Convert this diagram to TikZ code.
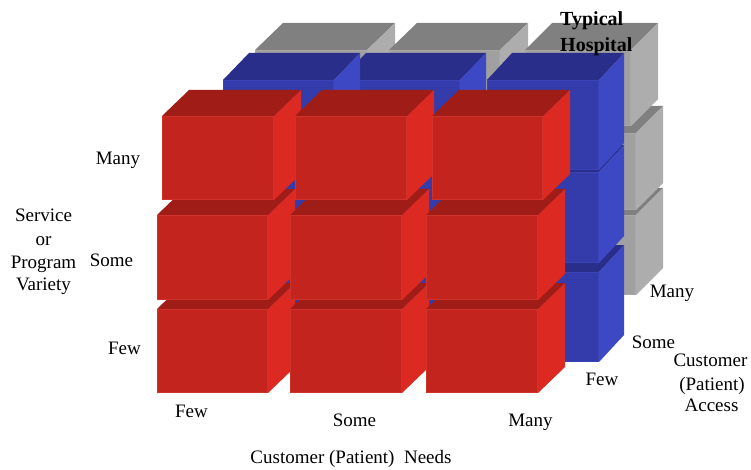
\documentclass[tikz,border=0pt]{standalone}
\usepackage{fontspec}
\setmainfont{Liberation Serif}
\definecolor{redfront}{HTML}{C3241E}
\definecolor{redtop}{HTML}{A01C16}
\definecolor{redside}{HTML}{DC2A22}
\definecolor{rededge}{HTML}{D0332C}
\definecolor{bluefront}{HTML}{333CAA}
\definecolor{bluetop}{HTML}{282E8A}
\definecolor{blueside}{HTML}{3D48C5}
\definecolor{blueedge}{HTML}{3A44B8}
\definecolor{grayfront}{HTML}{A0A0A0}
\definecolor{graytop}{HTML}{808080}
\definecolor{grayside}{HTML}{ADADAD}
\definecolor{grayedge}{HTML}{A8A8A8}
% #1 x, #2 y (front top-left), #3 width, #4 height, #5 depth dx, #6 depth dy, #7 colour prefix
\newcommand\cub[7]{%
  \fill[#7top] (#1,#2) -- ++(#5,-#6) -- ++(#3,0) -- ++(-#5,#6) -- cycle;
  \fill[#7side] (#1+#3,#2) -- ++(#5,-#6) -- ++(0,#4) -- ++(-#5,#6) -- cycle;
  \fill[#7front] (#1,#2) rectangle ++(#3,#4);
  \draw[#7edge, line width=1] (#1+0.5,#2+0.5) rectangle ++(#3-1,#4-1);
}
\begin{document}
\begin{tikzpicture}[x=1pt,y=-1pt,
  lbl/.style={font=\fontsize{19}{23}\selectfont, inner sep=0pt, anchor=base},
  ttl/.style={font=\bfseries\fontsize{20}{24}\selectfont, inner sep=0pt, anchor=base west}]
\useasboundingbox (0,0) rectangle (751,470);
\fill[white] (0,0) rectangle (751,470);
% ---------- gray (back) layer ----------
\cub{259}{215}{112}{80}{27}{27}{gray}
\cub{393}{215}{111}{80}{27}{27}{gray}
\cub{530}{215}{106}{80}{27}{27}{gray}
\cub{259}{133}{112}{77}{27}{27}{gray}
\cub{393}{133}{111}{77}{27}{27}{gray}
\cub{530}{133}{106}{77}{27}{27}{gray}
\cub{255}{50}{112}{76}{28}{27}{gray}
\cub{389}{50}{111}{76}{28}{27}{gray}
\cub{525}{50}{106}{76}{27}{27}{gray}
% ---------- blue (middle) layer ----------
\cub{487}{272}{112}{90}{25}{27}{blue}
\cub{340}{272}{120}{90}{26}{27}{blue}
\cub{223}{272}{111}{90}{26}{27}{blue}
\cub{487}{172}{112}{91}{25}{27}{blue}
\cub{340}{172}{120}{91}{26}{27}{blue}
\cub{223}{172}{111}{91}{26}{27}{blue}
\cub{487}{80}{112}{90}{25}{27}{blue}
\cub{340}{80}{120}{90}{26}{27}{blue}
\cub{223}{80}{111}{90}{26}{27}{blue}
% ---------- red (front) layer ----------
\cub{157}{309}{111}{84}{27}{26}{red}
\cub{290}{309}{112}{84}{27}{26}{red}
\cub{426}{309}{112}{84}{27}{26}{red}
\cub{157}{215}{111}{85}{27}{26}{red}
\cub{290}{215}{112}{85}{27}{26}{red}
\cub{426}{215}{112}{85}{27}{26}{red}
\cub{162}{116}{112}{84}{27}{26}{red}
\cub{295}{116}{112}{84}{27}{26}{red}
\cub{432}{116}{111}{84}{27}{26}{red}
% ---------- labels ----------
\node[ttl] (typ) at (560,26) {Typical};
\node[ttl] (hosp) at (560,51.7) {Hospital};
\node[lbl] (svc1) at (43.5,221.7) {Service};
\node[lbl] (svc2) at (43.5,245) {or};
\node[lbl] (svc3) at (43.5,268) {Program};
\node[lbl] (svc4) at (43.5,290.5) {Variety};
\node[lbl] (vmany) at (118,165) {Many};
\node[lbl] (vsome) at (111.5,266.7) {Some};
\node[lbl] (vfew) at (124.5,354) {Few};
\node[lbl] (nfew) at (191.5,417.7) {Few};
\node[lbl] (nsome) at (354.5,426) {Some};
\node[lbl] (nmany) at (530.5,426) {Many};
\node[lbl] (needs) at (351,463.3) {Customer (Patient)\ \ Needs};
\node[lbl] (amany) at (672,297.3) {Many};
\node[lbl] (asome) at (653.5,348) {Some};
\node[lbl] (afew) at (602,385) {Few};
\node[lbl] (acc1) at (710.5,366.7) {Customer};
\node[lbl] (acc2) at (712,390.7) {(Patient)};
\node[lbl] (acc3) at (711.5,411.7) {Access};
\end{tikzpicture}
\end{document}
